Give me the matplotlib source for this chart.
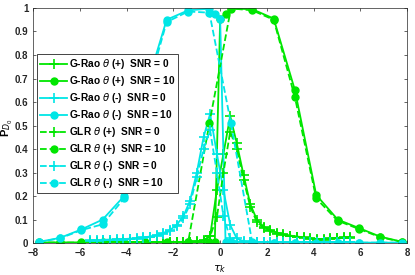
import matplotlib
matplotlib.use("Agg")
import matplotlib.pyplot as plt

# SNR = 10 curves (circle markers)
x_hi = [-7.77, -6.86, -5.94, -5.03, -4.11, -3.2, -2.29, -1.37, -0.46, -0.23, 0.0,
        0.23, 0.46, 1.37, 2.29, 3.2, 4.11, 5.03, 5.94, 6.86, 7.77]
x_glr_hi = [-7.77, -6.86, -5.94, -5.03, -4.11, -3.2, -2.29, -1.37, -0.46,
            0.46, 1.37, 2.29, 3.2, 4.11, 5.03, 5.94, 6.86, 7.77]

rao_pos_hi = [0.003, 0.003, 0.003, 0.003, 0.003, 0.003, 0.003, 0.003, 0.003, 0.005, 0.953,
              0.975, 0.997, 0.995, 0.955, 0.65, 0.205, 0.10, 0.064, 0.027, 0.006]
rao_neg_hi = [0.005, 0.022, 0.058, 0.10, 0.20, 0.65, 0.95, 0.99, 0.997, 0.975, 0.953,
              0.005, 0.003, 0.002, 0.002, 0.002, 0.002, 0.002, 0.002, 0.002, 0.002]
glr_pos_hi = [0.002, 0.002, 0.002, 0.002, 0.002, 0.002, 0.002, 0.004, 0.51,
              0.998, 0.99, 0.95, 0.62, 0.19, 0.095, 0.06, 0.025, 0.005]
glr_neg_hi = [0.005, 0.02, 0.055, 0.08, 0.19, 0.62, 0.94, 0.985, 0.98,
              0.51, 0.004, 0.002, 0.002, 0.002, 0.002, 0.002, 0.002, 0.002]

# SNR = 0 curves (plus markers)
x_lo = [-5.57, -5.29, -5.0, -4.71, -4.43, -4.14, -3.86, -3.57, -3.29, -3.0,
        -2.71, -2.43, -2.14, -1.86, -1.57, -1.29, -1.0, -0.71, -0.43, -0.14,
        0.14, 0.43, 0.71, 1.0, 1.29, 1.57, 1.86, 2.14, 2.43, 2.71,
        3.0, 3.29, 3.57, 3.86, 4.14, 4.43, 4.71, 5.0, 5.29, 5.57]

rao_pos_lo = [0.005, 0.005, 0.005, 0.005, 0.005, 0.005, 0.005, 0.005, 0.005, 0.005,
              0.005, 0.005, 0.005, 0.005, 0.005, 0.006, 0.008, 0.012, 0.03, 0.226,
              0.38, 0.54, 0.425, 0.29, 0.165, 0.10, 0.07, 0.055, 0.045, 0.038,
              0.032, 0.028, 0.024, 0.02, 0.018, 0.017, 0.02, 0.022, 0.024, 0.025]
rao_neg_lo = [0.012, 0.013, 0.014, 0.015, 0.016, 0.017, 0.019, 0.021, 0.024, 0.028,
              0.034, 0.043, 0.056, 0.078, 0.115, 0.18, 0.30, 0.45, 0.55, 0.38,
              0.226, 0.077, 0.02, 0.008, 0.004, 0.003, 0.003, 0.003, 0.003, 0.003,
              0.003, 0.003, 0.003, 0.003, 0.003, 0.003, 0.003, 0.003, 0.003, 0.003]
glr_pos_lo = [0.005, 0.005, 0.005, 0.005, 0.005, 0.005, 0.005, 0.005, 0.005, 0.005,
              0.005, 0.005, 0.005, 0.005, 0.005, 0.005, 0.006, 0.01, 0.03, 0.11,
              0.30, 0.474, 0.40, 0.27, 0.155, 0.09, 0.065, 0.05, 0.04, 0.034,
              0.03, 0.026, 0.022, 0.018, 0.015, 0.015, 0.018, 0.02, 0.022, 0.022]
glr_neg_lo = [0.01, 0.011, 0.012, 0.013, 0.014, 0.015, 0.017, 0.019, 0.022, 0.026,
              0.032, 0.04, 0.052, 0.072, 0.105, 0.165, 0.28, 0.40, 0.48, 0.30,
              0.115, 0.02, 0.006, 0.004, 0.003, 0.003, 0.003, 0.003, 0.003, 0.003,
              0.003, 0.003, 0.003, 0.003, 0.003, 0.003, 0.003, 0.003, 0.003, 0.003]

GREEN = "#00e600"
CYAN = "#00e6e6"

plt.rcParams["font.family"] = ["Liberation Sans", "DejaVu Sans"]
plt.rcParams["mathtext.fontset"] = "dejavusans"

fig = plt.figure(figsize=(4.15, 2.75), dpi=100)
ax = fig.add_axes([0.08, 0.116, 0.901, 0.855])

lw = 1.3
plus = dict(marker="+", ms=7, mew=1.2)
circ = dict(marker="o", ms=5)
ax.plot(x_lo, rao_pos_lo, "-", color=GREEN, lw=lw, **plus,
        label=r"G-Rao $\theta$ (+)  SNR = 0")
ax.plot(x_hi, rao_pos_hi, "-", color=GREEN, lw=lw, mfc=GREEN, **circ,
        label=r"G-Rao $\theta$ (+)  SNR = 10")
ax.plot(x_lo, rao_neg_lo, "-", color=CYAN, lw=lw, **plus,
        label=r"G-Rao $\theta$ (-)  SNR = 0")
ax.plot(x_hi, rao_neg_hi, "-", color=CYAN, lw=lw, mfc=CYAN, **circ,
        label=r"G-Rao $\theta$ (-)  SNR = 10")
ax.plot(x_lo, glr_pos_lo, "--", color=GREEN, lw=lw, **plus,
        label=r"GLR $\theta$ (+)  SNR = 0")
ax.plot(x_glr_hi, glr_pos_hi, "--", color=GREEN, lw=lw, mfc=GREEN, **circ,
        label=r"GLR $\theta$ (+)  SNR = 10")
ax.plot(x_lo, glr_neg_lo, "--", color=CYAN, lw=lw, **plus,
        label=r"GLR $\theta$ (-)  SNR = 0")
ax.plot(x_glr_hi, glr_neg_hi, "--", color=CYAN, lw=lw, mfc=CYAN, **circ,
        label=r"GLR $\theta$ (-)  SNR = 10")

ax.set_xlim(-8, 8)
ax.set_ylim(0, 1)
ax.set_xticks(range(-8, 9, 2))
ax.set_yticks([i / 10 for i in range(11)])
ax.set_yticklabels(["0"] + [f"{i / 10:.1f}" for i in range(1, 10)] + ["1"])
ax.tick_params(direction="in", length=2.5, width=0.5, top=True, right=True,
               labelsize=7, colors="#262626")
for lab in ax.get_xticklabels() + ax.get_yticklabels():
    lab.set_fontweight("bold")
for s in ax.spines.values():
    s.set_color("#262626")
    s.set_linewidth(0.5)

ax.set_xlabel(r"$\tau_k$", fontsize=8)
ax.xaxis.set_label_coords(0.5, -0.085)
ax.set_ylabel(r"P$_{D_0}$", fontsize=8, fontweight="bold")
ax.yaxis.set_label_coords(-0.048, 0.49)

leg = ax.legend(loc="upper left", bbox_to_anchor=(0.011, 0.804), borderaxespad=0,
                fancybox=False, framealpha=1, edgecolor="#262626", numpoints=1,
                handlelength=2.6, handletextpad=0.2, labelspacing=0.3,
                borderpad=0.3, prop={"size": 7.3, "weight": "bold"})
leg.get_frame().set_linewidth(0.6)

fig.savefig("out.png", dpi=100)
